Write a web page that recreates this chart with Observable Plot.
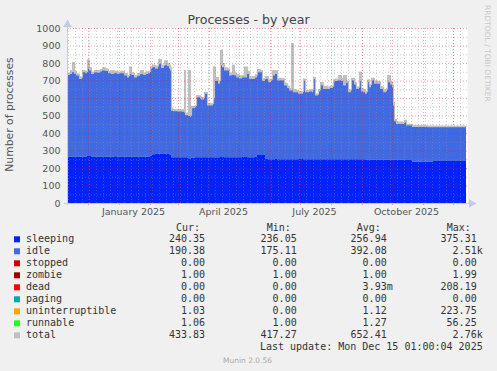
<!DOCTYPE html>
<html><head><meta charset="utf-8">
<script src="https://cdn.jsdelivr.net/npm/d3@7"></script>
<script src="https://cdn.jsdelivr.net/npm/@observablehq/plot@0.6"></script>
<style>
html,body{margin:0;padding:0;background:#f0f0f0;}
#wrap{position:relative;width:497px;height:371px;overflow:hidden;background:#f0f0f0;}
#wrap svg{position:absolute;left:0;top:0;}
</style></head>
<body><div id="wrap"></div>
<script>
// ---- data ----
const startDate = "2024-11-10";
const endDate = "2025-12-15";
const dayOffset = [0,3,5,7,9,12,15,18,20,22,
  24,27,30,33,35,38,41,44,47,50,
  53,57,60,62,64,67,70,73,76,79,
  81,83,85,88,91,94,97,100,102,103,
  104,106,110,115,117,118,121,123,124,128,
  129,133,134,137,140,145,146,148,151,153,
  155,157,160,162,165,167,169,172,175,177,
  180,182,185,188,190,193,195,198,201,204,
  205,208,210,214,217,220,222,224,226,229,
  231,234,236,238,242,245,246,248,251,253,
  256,260,263,266,268,271,274,276,279,281,
  284,287,289,292,294,296,298,300,302,304,
  307,310,313,316,319,320,323,325,326,327,
  329,335,337,339,345,360,366,380,398,399];
const sleeping = [265,265,265,265,265,265,265,266,268,268,
  266,265,265,265,265,265,265,265,267,265,
  265,265,265,266,265,265,264,264,265,265,
  266,270,278,280,282,280,281,280,278,276,
  262,262,262,262,262,262,256,252,258,262,
  262,262,262,262,262,262,262,262,262,263,
  263,262,262,262,262,262,262,262,263,263,
  262,262,262,265,274,275,275,255,250,250,
  250,251,250,250,250,250,250,250,250,250,
  252,252,250,250,250,250,250,250,250,250,
  250,250,250,250,250,250,250,250,250,250,
  250,250,250,250,250,250,249,249,249,249,
  249,249,249,249,249,249,249,249,249,249,
  248,248,248,246,236,236,240,240,240,240];
const idle = [467,472,482,472,463,444,482,476,499,489,
  471,482,480,487,492,490,477,472,475,472,
  477,463,452,471,467,452,463,473,467,472,
  476,497,498,487,513,492,506,502,489,481,
  265,263,261,260,255,240,241,240,284,285,
  342,335,330,362,295,295,335,435,419,523,
  514,495,495,466,470,466,455,450,454,454,
  475,447,447,452,473,472,422,454,440,447,
  478,486,450,450,421,407,393,393,383,383,
  372,372,447,383,387,383,459,364,387,421,
  402,402,407,440,447,450,447,421,437,383,
  450,427,402,447,387,383,375,441,413,451,
  432,432,403,384,388,441,428,413,308,218,
  204,204,214,197,199,197,193,193,193,193];
const total = [745,760,805,755,740,722,758,755,820,775,
  750,760,758,765,775,768,755,760,755,750,
  755,742,730,779,745,730,742,760,745,752,
  755,780,790,785,823,790,815,800,790,775,
  540,535,535,535,760,515,760,505,555,560,
  615,610,605,635,568,570,780,720,700,875,
  800,775,770,745,790,745,735,728,732,779,
  755,722,725,735,765,760,712,725,705,710,
  760,760,715,712,685,670,655,912,650,645,
  640,640,710,645,650,650,720,625,650,690,
  668,665,670,705,710,731,715,731,700,650,
  715,690,665,750,655,650,640,705,680,715,
  700,695,665,648,655,731,695,675,580,480,
  465,462,475,452,444,441,441,441,440,440];

const yTicks = [0,100,200,300,400,500,600,700,800,900,1000];
const xTickLabels = ["January 2025","April 2025","July 2025","October 2025"];
const xLabelDates = ["2025-01-15","2025-04-15","2025-07-15","2025-10-15"];

const legendNames = ["sleeping","idle","stopped","zombie","dead","paging","uninterruptible","runnable","total"];
const legendColors = ["#0022ff","#4169e1","#cc0000","#990000","#ff0000","#00aaaa","#ffa500","#22ff22","#c0c0c0"];
const curVals = ["240.35","190.38","0.00","1.00","0.00","0.00","1.03","1.06","433.83"];
const minVals = ["236.05","175.11","0.00","1.00","0.00","0.00","0.00","1.00","417.27"];
const avgVals = ["256.94","392.08","0.00","1.00","3.93m","0.00","1.12","1.27","652.41"];
const maxVals = ["375.31","2.51k","0.00","1.99","208.19","0.00","223.75","56.25","2.76k"];
const columnHeads = ["Cur:","Min:","Avg:","Max:"];
const title = "Processes - by year";
const yLabel = "Number of processes";
const lastUpdate = "Last update: Mon Dec 15 01:00:04 2025";
const version = "Munin 2.0.56";
const sideText = "RRDTOOL / TOBI OETIKER";

// ---- build ----
const DAY = 864e5;
const t0 = new Date(startDate + "T00:00:00Z");
const t1 = new Date(endDate + "T00:00:00Z");
const rows = dayOffset.map((d, i) => ({date: new Date(+t0 + d * DAY), sleeping: sleeping[i], idle: idle[i], total: total[i]}));
const tidy = rows.flatMap(r => [
  {date: r.date, series: "sleeping", value: r.sleeping},
  {date: r.date, series: "idle", value: r.idle}
]);
const months = d3.utcMonth.range(t0, t1);
const weeks = d3.utcMonday.range(t0, t1);
const yMinor = d3.range(50, 1000, 100);
const yMajor = d3.range(100, 1001, 100);
const labelDates = xLabelDates.map(s => new Date(s + "T00:00:00Z"));
const labelMap = new Map(labelDates.map((d, i) => [+d, xTickLabels[i]]));
const axisColor = "#c4c8f2";

const chart = Plot.plot({
  width: 497, height: 222,
  marginLeft: 67, marginRight: 30, marginTop: 28, marginBottom: 19,
  x: {type: "utc", domain: [t0, t1]},
  y: {domain: [0, 1000]},
  color: {domain: legendNames, range: legendColors},
  style: {background: "transparent", fontFamily: "DejaVu Sans", overflow: "visible"},
  marks: [
    Plot.frame({fill: "white", stroke: null}),
    Plot.areaY(rows, {x: "date", y: "total", fill: legendColors[8], curve: "step-after"}),
    Plot.areaY(tidy, {x: "date", y: "value", fill: "series", z: "series", order: ["sleeping", "idle"], curve: "step-after"}),
    Plot.lineY(rows, {x: "date", y: "total", stroke: legendColors[8], strokeWidth: 1.2, curve: "step-after"}),
    Plot.ruleX(weeks, {stroke: "#909090", strokeOpacity: 0.4, strokeDasharray: "1,2"}),
    Plot.ruleY(yMinor, {stroke: "#909090", strokeOpacity: 0.4, strokeDasharray: "1,2"}),
    Plot.ruleX(months, {stroke: "#ff0000", strokeOpacity: 0.35, strokeDasharray: "1,2"}),
    Plot.ruleY(yMajor, {stroke: "#ff0000", strokeOpacity: 0.35, strokeDasharray: "1,2"}),
    Plot.ruleX(months, {y1: -11, y2: 0, stroke: "#ee9999"}),
    Plot.axisY({ticks: yTicks, tickFormat: "d", tickSize: 0, tickPadding: 7, fontSize: 9.5, fill: "#555", label: null}),
    Plot.axisX({ticks: labelDates, tickFormat: d => labelMap.get(+d), tickSize: 0, tickPadding: 5, fontSize: 9.5, fill: "#555", label: null}),
    Plot.ruleY([0], {x1: new Date(+t0 - 3 * DAY), x2: new Date(+t1 + 2 * DAY), stroke: axisColor}),
    Plot.ruleX([t0], {y1: -10, y2: 1020, stroke: axisColor}),
    Plot.dot([{x: t0, y: 1023}], {x: "x", y: "y", symbol: "triangle", r: 3.2, fill: axisColor, stroke: null}),
    Plot.dot([{x: new Date(+t1 + 4 * DAY), y: 0}], {x: "x", y: "y", symbol: "triangle", r: 3.2, rotate: 90, fill: axisColor, stroke: null})
  ]
});
document.getElementById("wrap").appendChild(chart);

// ---- title, labels and legend ----
const ov = d3.select("#wrap").append("svg").attr("width", 497).attr("height", 371);
ov.append("text").attr("x", 248.5).attr("y", 23.5).attr("text-anchor", "middle")
  .attr("font-family", "DejaVu Sans").attr("font-size", 12.6).attr("fill", "#444").text(title);
ov.append("text").attr("transform", "translate(13,114.5) rotate(-90)").attr("text-anchor", "middle")
  .attr("font-family", "DejaVu Sans").attr("font-size", 10.8).attr("fill", "#555").text(yLabel);
ov.append("text").attr("transform", "translate(485,5) rotate(90)").attr("text-anchor", "start")
  .attr("font-family", "DejaVu Sans").attr("font-size", 7.5).attr("fill", "#c8c8c8").text(sideText);

const mono = {"font-family": "DejaVu Sans Mono", "font-size": 10, fill: "#333"};
function t(x, y, s, anchor) {
  const e = ov.append("text").attr("x", x).attr("y", y).attr("text-anchor", anchor || "start").style("white-space", "pre").text(s);
  for (const k in mono) e.attr(k, mono[k]);
  return e;
}
const headStart = [176, 266.7, 356.7, 446.7];
const numEnd = [205, 296.7, 386.7, 476.7];
columnHeads.forEach((h, j) => t(headStart[j], 230.8, h));
const cols = [curVals, minVals, avgVals, maxVals];
legendNames.forEach((name, i) => {
  const by = 242.3 + 12 * i;
  ov.append("rect").attr("x", 14).attr("y", by - 6).attr("width", 6).attr("height", 6).attr("fill", legendColors[i]);
  t(26, by, name);
  cols.forEach((vals, j) => {
    const v = vals[i];
    const suffixed = /[a-zA-Z]$/.test(v);
    t(numEnd[j] + (suffixed ? 6.02 : 0), by, v, "end");
  });
});
t(482.7, 350.3, lastUpdate, "end");
ov.append("text").attr("x", 223).attr("y", 363.3).attr("font-family", "DejaVu Sans").attr("font-size", 7.5)
  .attr("fill", "#aaa").text(version);
</script>
</body></html>
